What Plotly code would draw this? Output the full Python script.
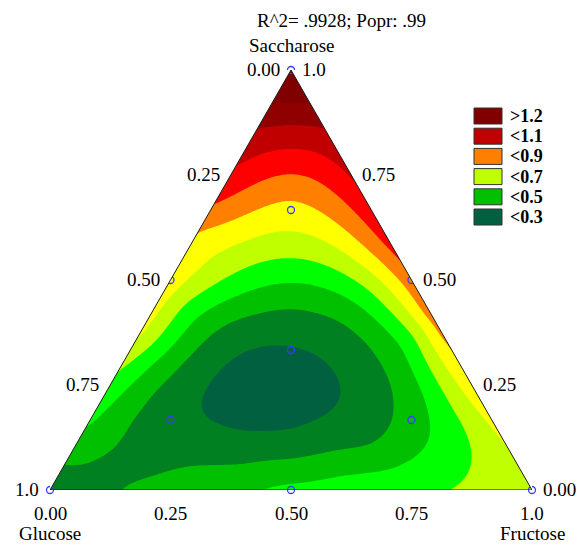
import numpy as np
import plotly.graph_objects as go

# ---------------- data ----------------
title_text = "R^2= .9928; Popr: .99"
comp_top, comp_left, comp_right = "Saccharose", "Glucose", "Fructose"

# response values read at compositions (saccharose fraction, fructose fraction);
# glucose = 1 - saccharose - fructose
obs_sacch = [1.00, 0.00, 0.00,
             0.00, 0.00, 0.00, 0.00, 0.00, 0.00, 0.00, 0.00,
             0.03, 0.06, 0.15, 0.22, 0.29, 0.37, 0.50, 0.61, 0.68, 0.77, 0.86, 0.93,
             0.10, 0.20, 0.28, 0.33, 0.37, 0.43, 0.50, 0.55, 0.60, 0.75, 0.86, 0.93,
             0.067, 0.10, 0.14, 0.24, 0.34, 0.38, 0.44, 0.49, 0.55, 0.61, 0.70, 0.755, 0.81, 0.874, 0.667, 0.94,
             0.198, 0.136, 0.202, 0.302, 0.302, 0.160, 0.22, 0.25,
             0.22, 0.10, 0.05, 0.12, 0.36, 0.25,
             0.405, 0.317, 0.238, 0.174, 0.102, 0.405, 0.293, 0.198, 0.143, 0.102, 0.079, 0.055, 0.024,
             0.429, 0.317, 0.190, 0.429, 0.357, 0.238, 0.102, 0.071, 0.043, 0.029,
             0.50, 0.388, 0.493, 0.374, 0.170, 0.100,
             0.50, 0.50, 0.30]
obs_fruc = [0.00, 0.00, 1.00,
            0.05, 0.15, 0.30, 0.44, 0.50, 0.65, 0.83, 0.92,
            0.00, 0.00, 0.00, 0.00, 0.00, 0.00, 0.00, 0.00, 0.00, 0.00, 0.00, 0.00,
            0.90, 0.80, 0.72, 0.67, 0.63, 0.57, 0.50, 0.45, 0.40, 0.25, 0.14, 0.07,
            0.467, 0.45, 0.43, 0.38, 0.33, 0.31, 0.28, 0.255, 0.225, 0.195, 0.15, 0.1225, 0.095, 0.063, 0.1667, 0.03,
            0.206, 0.341, 0.484, 0.415, 0.222, 0.453, 0.33, 0.36,
            0.15, 0.20, 0.10, 0.60, 0.40, 0.55,
            0.165, 0.132, 0.088, 0.064, 0.032, 0.399, 0.524, 0.602, 0.628, 0.592, 0.494, 0.367, 0.210,
            0.076, 0.049, 0.020, 0.443, 0.562, 0.663, 0.733, 0.705, 0.580, 0.448,
            0.125, 0.049, 0.400, 0.581, 0.790, 0.842,
            0.06, 0.44, 0.66]
obs_resp = [1.32, 0.33, 0.66,
            0.36, 0.40, 0.46, 0.50, 0.52, 0.555, 0.60, 0.63,
            0.36, 0.40, 0.50, 0.55, 0.61, 0.71, 0.76, 0.80, 0.90, 1.00, 1.10, 1.22,
            0.70, 0.745, 0.78, 0.80, 0.82, 0.85, 0.87, 0.905, 0.94, 1.01, 1.10, 1.22,
            0.40, 0.35, 0.30, 0.25, 0.30, 0.35, 0.40, 0.50, 0.60, 0.70, 0.80, 0.90, 1.00, 1.10, 0.76, 1.22,
            0.30, 0.30, 0.30, 0.30, 0.30, 0.30, 0.24, 0.24,
            0.35, 0.36, 0.36, 0.35, 0.35, 0.35,
            0.40, 0.40, 0.40, 0.40, 0.40, 0.40, 0.40, 0.40, 0.40, 0.40, 0.40, 0.40, 0.40,
            0.50, 0.50, 0.50, 0.50, 0.50, 0.50, 0.50, 0.50, 0.50, 0.50,
            0.60, 0.60, 0.60, 0.60, 0.60, 0.60,
            0.70, 0.70, 0.70]

# design points (blue circles)
design_sacch = [1, 0, 0, 0.5, 0.5, 0, 1/3, 2/3, 1/6, 1/6]
design_fruc = [0, 0, 1, 0, 0.5, 0.5, 1/3, 1/6, 1/6, 2/3]

# contour levels and colours
level_start, level_end, level_step = 0.3, 1.2, 0.1
band_colors = ["#006040", "#008020", "#00c000", "#00ff00", "#c0ff00", "#ffff00",
               "#ff8000", "#ff0000", "#c00000", "#900000", "#800000"]
legend_labels = [">1.2", "<1.1", "<0.9", "<0.7", "<0.5", "<0.3"]
legend_colors = ["#800000", "#c00000", "#ff8000", "#c0ff00", "#00c000", "#006040"]

tick_vals = [0.0, 0.25, 0.5, 0.75, 1.0]
tick_text = ["0.00", "0.25", "0.50", "0.75", "1.0"]

# ---------------- smoothed surface through the read values (thin-plate spline) ----------------
H = np.sqrt(3) / 2
os_ = np.asarray(obs_sacch, float)
of_ = np.asarray(obs_fruc, float)
og_ = 1 - os_ - of_
px_ = of_ + os_ / 2
py_ = os_ * H
zv = np.asarray(obs_resp, float)
n = len(zv)
on_edge = (np.minimum(np.minimum(os_, of_), og_) < 1e-6)
smooth = np.where(on_edge, 2e-5, 1.2e-2)


def kern(r):
    with np.errstate(divide="ignore", invalid="ignore"):
        k = r * r * np.log(r)
    return np.nan_to_num(k)


R = np.hypot(px_[:, None] - px_[None, :], py_[:, None] - py_[None, :])
K = kern(R) + np.diag(smooth)
P = np.column_stack([np.ones(n), px_, py_])
M = np.zeros((n + 3, n + 3))
M[:n, :n] = K
M[:n, n:] = P
M[n:, :n] = P.T
sol = np.linalg.solve(M, np.concatenate([zv, np.zeros(3)]))
w, a = sol[:n], sol[n:]

xs = np.linspace(0, 1, 361)
ys = np.linspace(0, H, 313)
XX, YY = np.meshgrid(xs, ys)
gx, gy = XX.ravel(), YY.ravel()
ZZ = np.empty(gx.size)
for i0 in range(0, gx.size, 20000):
    sx, sy = gx[i0:i0 + 20000], gy[i0:i0 + 20000]
    rr = np.hypot(sx[:, None] - px_[None, :], sy[:, None] - py_[None, :])
    ZZ[i0:i0 + 20000] = kern(rr) @ w + a[0] + a[1] * sx + a[2] * sy
ZZ = ZZ.reshape(XX.shape)

nb = len(band_colors)
cscale = []
for k, c in enumerate(band_colors):
    lo = max(0.0, (k - 0.5) / (nb - 1))
    hi = min(1.0, (k + 0.5) / (nb - 1))
    cscale.append([lo, c])
    cscale.append([hi, c])

fig = go.Figure()
fig.add_trace(go.Contour(
    x=xs, y=ys, z=ZZ, autocontour=False,
    contours=dict(start=level_start, end=level_end, size=level_step,
                  coloring="fill", showlines=False),
    colorscale=cscale, showscale=False, line=dict(width=0),
    hoverinfo="skip"))

ds = np.asarray(design_sacch)
dfr = np.asarray(design_fruc)
fig.add_trace(go.Scatter(
    x=dfr + ds / 2, y=ds * H, mode="markers", cliponaxis=False,
    marker=dict(symbol="circle-open", size=7, color="#3b3bff", line=dict(width=1.3)),
    hoverinfo="skip", showlegend=False))

shapes = []
shapes.append(dict(type="path", xref="x", yref="y", layer="above",
                   path=f"M -0.2,-0.05 L 0,0 L 0.5,{H} L 0.5,{H + 0.1} L -0.2,{H + 0.1} Z",
                   fillcolor="white", line=dict(width=0)))
shapes.append(dict(type="path", xref="x", yref="y", layer="above",
                   path=f"M 1.2,-0.05 L 1,0 L 0.5,{H} L 0.5,{H + 0.1} L 1.2,{H + 0.1} Z",
                   fillcolor="white", line=dict(width=0)))
shapes.append(dict(type="path", xref="x", yref="y", layer="above",
                   path=f"M 0,0 L 1,0 L 0.5,{H} Z",
                   fillcolor="rgba(0,0,0,0)", line=dict(color="#1a1a1a", width=1)))

PW, PH, L0, T0 = 482.0, 420.0, 50.0, 70.0


def px2paper(px, py):
    return (px - L0) / PW, 1 - (py - T0) / PH


annotations = []
for i, (lab, col) in enumerate(zip(legend_labels, legend_colors)):
    top = 108 + i * 20.2
    x0, y1 = px2paper(474, top)
    x1, y0 = px2paper(502, top + 16)
    shapes.append(dict(type="rect", xref="paper", yref="paper", layer="above",
                       x0=x0, x1=x1, y0=y0, y1=y1, fillcolor=col,
                       line=dict(color="#333333", width=1)))
    tx, ty = px2paper(508, top + 8)
    annotations.append(dict(xref="paper", yref="paper", x=tx, y=ty,
                            text="<b>" + lab.replace("<", "&lt;").replace(">", "&gt;") + "</b>",
                            xanchor="left", yanchor="middle", showarrow=False,
                            font=dict(size=18)))

FONT = dict(size=19)

for v, t in zip(tick_vals, tick_text):
    s = 1 - v  # left edge: glucose scale
    annotations.append(dict(x=s / 2, y=s * H, text=t, xanchor="right", yanchor="middle",
                            xshift=-9, yshift=1, showarrow=False, font=FONT))
    s = v  # right edge: saccharose scale
    annotations.append(dict(x=1 - s / 2, y=s * H, text=t, xanchor="left", yanchor="middle",
                            xshift=9, yshift=1, showarrow=False, font=FONT))
    annotations.append(dict(x=v, y=0, text=t, xanchor="center", yanchor="middle",
                            yshift=-23, showarrow=False, font=FONT))

annotations.append(dict(x=0.5, y=H, text=comp_top, xanchor="center", yanchor="middle",
                        yshift=25, showarrow=False, font=FONT))
annotations.append(dict(x=0, y=0, text=comp_left, xanchor="center", yanchor="middle",
                        yshift=-43, showarrow=False, font=FONT))
annotations.append(dict(x=1, y=0, text=comp_right, xanchor="center", yanchor="middle",
                        yshift=-43, showarrow=False, font=FONT))
tx, ty = px2paper(341, 21)
annotations.append(dict(xref="paper", yref="paper", x=tx, y=ty, text=title_text,
                        xanchor="center", yanchor="middle", showarrow=False, font=FONT))

for an in annotations:
    an.setdefault("xref", "x")
    an.setdefault("yref", "y")
    an["font"] = dict(family="Liberation Serif, Times New Roman, serif",
                      size=an["font"]["size"], color="black")

fig.update_layout(
    width=576, height=544,
    margin=dict(l=50, r=44, t=70, b=54, pad=0),
    paper_bgcolor="white", plot_bgcolor="white",
    xaxis=dict(range=[0, 1], visible=False, fixedrange=True),
    yaxis=dict(range=[0, H], visible=False, fixedrange=True),
    shapes=shapes, annotations=annotations, showlegend=False,
)

fig.write_html("out.html", config={"displayModeBar": False},
               post_script="document.body.style.margin='0px';document.body.style.padding='0px';")
